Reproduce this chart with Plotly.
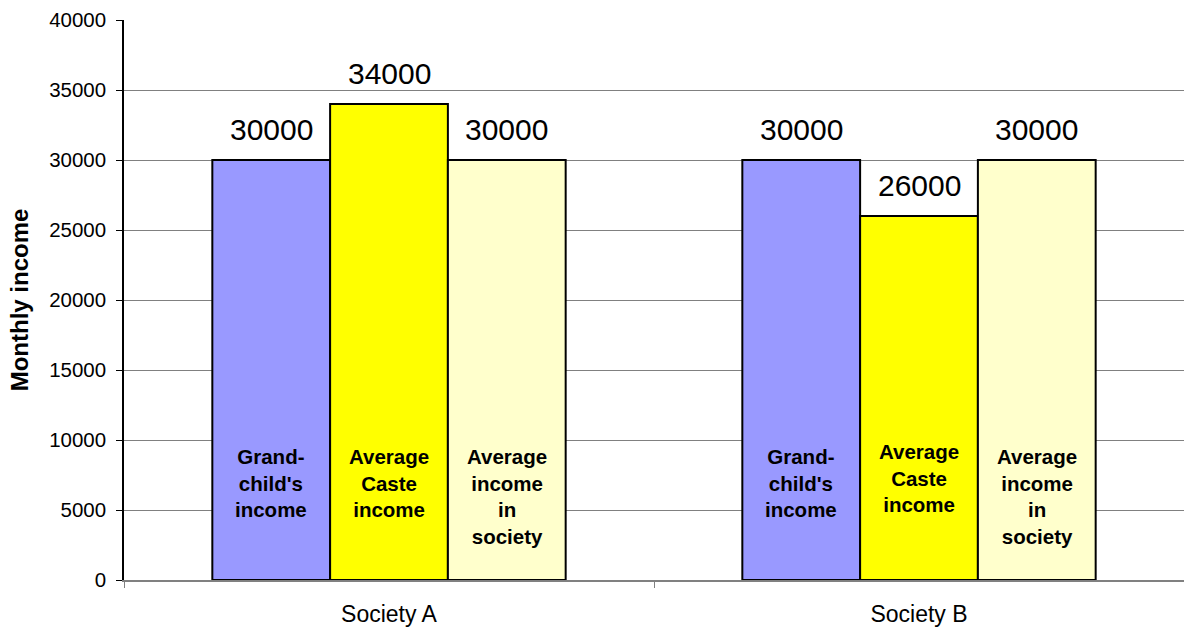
import plotly.graph_objects as go

categories = ["Society A", "Society B"]
series_names = ["Grand-<br>child's<br>income", "Average<br>Caste<br>income", "Average<br>income<br>in<br>society"]
grandchild = [30000, 30000]
caste = [34000, 26000]
society = [30000, 30000]
colors = ["#9999FF", "#FFFF00", "#FFFFCC"]
series = [grandchild, caste, society]

FONT = "Liberation Sans, Arial, sans-serif"
W, H = 1184, 628
ML, MR, MT, MB = 124, 0, 20, 48
plot_w = W - ML - MR
bargap = 1 / 3
cat_px = plot_w / len(categories)
bar_px = cat_px * (1 - bargap) / len(series)

fig = go.Figure()
for i, (vals, col) in enumerate(zip(series, colors)):
    fig.add_trace(go.Bar(
        x=categories, y=vals, marker=dict(color=col, line=dict(color="black", width=2)),
        showlegend=False, hoverinfo="skip"))

annotations = []
# inside-bar label centre heights (data units) per series, per category
label_centres = [[6900, 6900], [6900, 7300], [5950, 5950]]
for i, vals in enumerate(series):
    shift = (i - (len(series) - 1) / 2) * bar_px
    for j, cat in enumerate(categories):
        annotations.append(dict(
            x=cat, y=vals[j], xref="x", yref="y", xshift=shift, yshift=12,
            text=f"{vals[j]}", showarrow=False, yanchor="bottom",
            font=dict(family=FONT, size=30, color="black")))
        annotations.append(dict(
            x=cat, y=label_centres[i][j], xref="x", yref="y", xshift=shift,
            text=f"<b>{series_names[i]}</b>", showarrow=False, yanchor="middle",
            font=dict(family=FONT, size=20.5, color="black")))

fig.update_layout(
    width=W, height=H, margin=dict(l=ML, r=MR, t=MT, b=MB),
    paper_bgcolor="white", plot_bgcolor="white",
    barmode="group", bargap=bargap, bargroupgap=0,
    annotations=annotations,
    font=dict(family=FONT, color="black"),
    xaxis=dict(showline=True, linecolor="#808080", linewidth=2, ticks="outside",
               tickson="boundaries", ticklen=6, tickcolor="#808080",
               ticklabelstandoff=12,
               tickfont=dict(family=FONT, size=23), showgrid=False),
    yaxis=dict(range=[0, 40000], dtick=5000, tickformat="d", showline=True,
               linecolor="black", linewidth=1.5,
               ticks="outside", ticklen=6, tickcolor="black", gridcolor="#808080", gridwidth=1,
               ticklabelstandoff=6,
               tickfont=dict(family=FONT, size=20.5),
               title=dict(text="<b>Monthly income</b>", font=dict(family=FONT, size=24), standoff=14)),
)
fig.write_html("out.html")
